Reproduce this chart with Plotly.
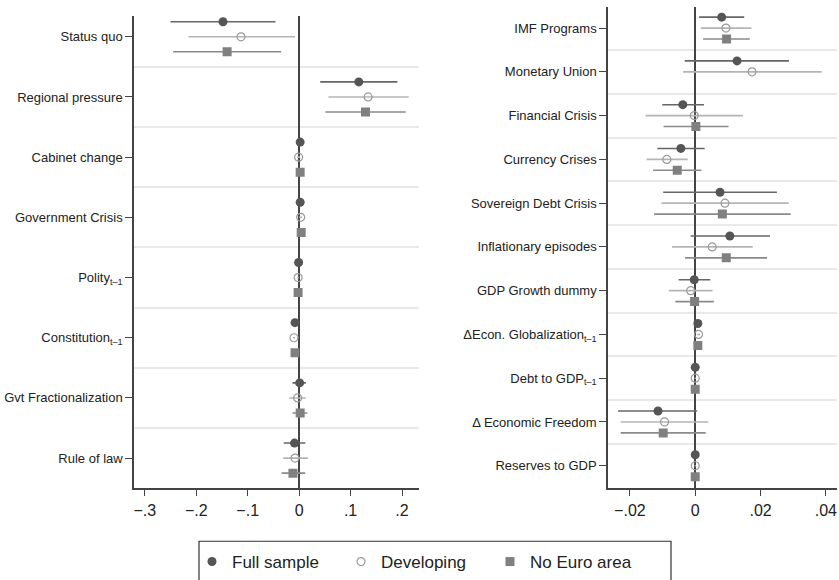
import plotly.graph_objects as go

# ---------------- data ----------------
left_labels = ["Status quo", "Regional pressure", "Cabinet change", "Government Crisis",
               "Polity<sub>t–1</sub>", "Constitution<sub>t–1</sub>", "Gvt Fractionalization", "Rule of law"]
left_full = [-0.148, 0.116, 0.002, 0.002, -0.001, -0.008, 0.001, -0.009]
left_full_lo = [-0.250, 0.041, -0.001, -0.001, -0.003, -0.010, -0.013, -0.030]
left_full_hi = [-0.046, 0.191, 0.005, 0.005, 0.001, -0.006, 0.013, 0.012]
left_dev = [-0.113, 0.134, -0.001, 0.003, -0.002, -0.010, -0.003, -0.008]
left_dev_lo = [-0.215, 0.057, -0.004, 0.000, -0.004, -0.012, -0.019, -0.031]
left_dev_hi = [-0.008, 0.213, 0.002, 0.006, 0.000, -0.008, 0.013, 0.017]
left_eur = [-0.140, 0.129, 0.002, 0.004, -0.002, -0.008, 0.002, -0.012]
left_eur_lo = [-0.245, 0.051, -0.001, 0.001, -0.004, -0.010, -0.013, -0.034]
left_eur_hi = [-0.035, 0.207, 0.005, 0.007, 0.000, -0.006, 0.016, 0.012]

right_labels = ["IMF Programs", "Monetary Union", "Financial Crisis", "Currency Crises",
                "Sovereign Debt Crisis", "Inflationary episodes", "GDP Growth dummy",
                "ΔEcon. Globalization<sub>t–1</sub>", "Debt to GDP<sub>t–1</sub>",
                "Δ Economic Freedom", "Reserves to GDP"]
right_full = [0.0081, 0.0128, -0.0038, -0.0044, 0.0076, 0.0106, -0.0003, 0.0008, 0.0000, -0.0114, 0.0000]
right_full_lo = [0.0012, -0.0032, -0.0101, -0.0116, -0.0098, -0.0014, -0.0051, 0.0004, -0.0002, -0.0236, -0.0002]
right_full_hi = [0.0150, 0.0287, 0.0027, 0.0029, 0.0250, 0.0229, 0.0046, 0.0012, 0.0002, 0.0006, 0.0002]
right_dev = [0.0094, 0.0174, -0.0003, -0.0087, 0.0091, 0.0052, -0.0014, 0.0010, 0.0000, -0.0094, 0.0000]
right_dev_lo = [0.0017, -0.0037, -0.0152, -0.0149, -0.0103, -0.0071, -0.0081, 0.0005, -0.0002, -0.0228, -0.0002]
right_dev_hi = [0.0172, 0.0387, 0.0146, -0.0023, 0.0286, 0.0176, 0.0053, 0.0015, 0.0002, 0.0040, 0.0002]
right_eur = [0.0096, None, 0.0002, -0.0055, 0.0083, 0.0095, -0.0002, 0.0008, 0.0000, -0.0098, 0.0000]
right_eur_lo = [0.0024, None, -0.0097, -0.0129, -0.0126, -0.0031, -0.0061, 0.0004, -0.0002, -0.0228, -0.0002]
right_eur_hi = [0.0167, None, 0.0102, 0.0019, 0.0292, 0.0220, 0.0057, 0.0012, 0.0002, 0.0032, 0.0002]

left_ticks = [-0.3, -0.2, -0.1, 0, 0.1, 0.2]
left_ticktext = ["\u2212.3", "\u2212.2", "\u2212.1", "0", ".1", ".2"]
right_ticks = [-0.02, 0, 0.02, 0.04]
right_ticktext = ["\u2212.02", "0", ".02", ".04"]

series_names = ["Full sample", "Developing", "No Euro area"]
offsets = [-0.25, 0.0, 0.25]

# ---------------- layout geometry ----------------
W, H = 839, 580
FONT = "Liberation Sans, Arial, Helvetica, sans-serif"


def px(xp):
    return xp / W


def py(yp):
    return max(0.0, min(1.0, 1 - yp / H))


styles = [
    dict(marker=dict(symbol="circle", size=9, color="#555555"), err="#666666"),
    dict(marker=dict(symbol="circle-open", size=8, color="#9a9a9a", line=dict(width=1.2, color="#9a9a9a")), err="#b4b4b4"),
    dict(marker=dict(symbol="square", size=9, color="#808080"), err="#8a8a8a"),
]


def err(est, lo, hi):
    plus = [None if e is None else h - e for e, h in zip(est, hi)]
    minus = [None if e is None else e - l for e, l in zip(est, lo)]
    return plus, minus


fig = go.Figure()

panels = [
    ("x", "y", left_full, left_full_lo, left_full_hi, left_dev, left_dev_lo, left_dev_hi,
     left_eur, left_eur_lo, left_eur_hi, len(left_labels)),
    ("x2", "y2", right_full, right_full_lo, right_full_hi, right_dev, right_dev_lo, right_dev_hi,
     right_eur, right_eur_lo, right_eur_hi, len(right_labels)),
]

for pi, (xa, ya, f, flo, fhi, d, dlo, dhi, e, elo, ehi, n) in enumerate(panels):
    sets = [(f, flo, fhi), (d, dlo, dhi), (e, elo, ehi)]
    for si, (est, lo, hi) in enumerate(sets):
        plus, minus = err(est, lo, hi)
        ypos = [i + offsets[si] for i in range(n)]
        st = styles[si]
        fig.add_trace(go.Scatter(
            x=est, y=ypos, xaxis=xa, yaxis=ya, mode="markers",
            name=series_names[si], showlegend=(pi == 0),
            marker=st["marker"],
            error_x=dict(type="data", symmetric=False, array=plus, arrayminus=minus,
                         color=st["err"], thickness=1.6, width=0),
        ))

axis_common = dict(showline=True, linecolor="#444444", linewidth=1.5, ticks="outside",
                   ticklen=7, tickwidth=1.2, tickcolor="#444444", showgrid=False,
                   tickfont=dict(size=16, color="#222222", family=FONT), automargin=False)
ylab_font = dict(size=13, color="#222222", family=FONT)

fig.update_layout(
    width=W, height=H,
    margin=dict(l=0, r=0, t=0, b=0),
    paper_bgcolor="white", plot_bgcolor="white",
    font=dict(family=FONT, color="#222222"),
    xaxis=dict(domain=[px(134), px(419)], range=[-0.321, 0.233], tickvals=left_ticks,
               ticktext=left_ticktext, zeroline=True, zerolinecolor="#444444", zerolinewidth=2,
               anchor="y", **axis_common),
    yaxis=dict(domain=[py(491), py(16)], range=[7.49, -0.347],
               tickvals=list(range(len(left_labels))), ticktext=left_labels, zeroline=False,
               anchor="x", minor=dict(tickvals=[i + 0.5 for i in range(len(left_labels) - 1)],
                                       showgrid=True, gridcolor="#e9e9e9", gridwidth=1.5, ticklen=0),
               **{**axis_common, "tickfont": ylab_font}),
    xaxis2=dict(domain=[px(608), px(837)], range=[-0.0267, 0.0434], tickvals=right_ticks,
                ticktext=right_ticktext, zeroline=True, zerolinecolor="#444444", zerolinewidth=2,
                anchor="y2", **axis_common),
    yaxis2=dict(domain=[py(491), py(7)], range=[10.5, -0.483],
                tickvals=list(range(len(right_labels))), ticktext=right_labels, zeroline=False,
                anchor="x2", minor=dict(tickvals=[i + 0.5 for i in range(len(right_labels) - 1)],
                                         showgrid=True, gridcolor="#e9e9e9", gridwidth=1.5, ticklen=0),
                **{**axis_common, "tickfont": ylab_font}),
    legend=dict(orientation="h", x=px(192), xanchor="left", y=py(566), yanchor="middle",
                bgcolor="rgba(0,0,0,0)", borderwidth=0, entrywidth=104, entrywidthmode="pixels",
                font=dict(size=17, color="#222222", family=FONT), itemclick=False),
    shapes=[dict(type="rect", xref="paper", yref="paper", x0=px(199), x1=px(671),
                 y0=-0.05, y1=py(545), line=dict(color="#333333", width=1.2),
                 fillcolor="rgba(0,0,0,0)", layer="below")],
)

# Remove the default 8px page margin so the 839x580 figure fills the window exactly.
fig.write_html("out.html", config={"displayModeBar": False},
               post_script="document.body.style.margin='0px';document.body.style.overflow='hidden';")
